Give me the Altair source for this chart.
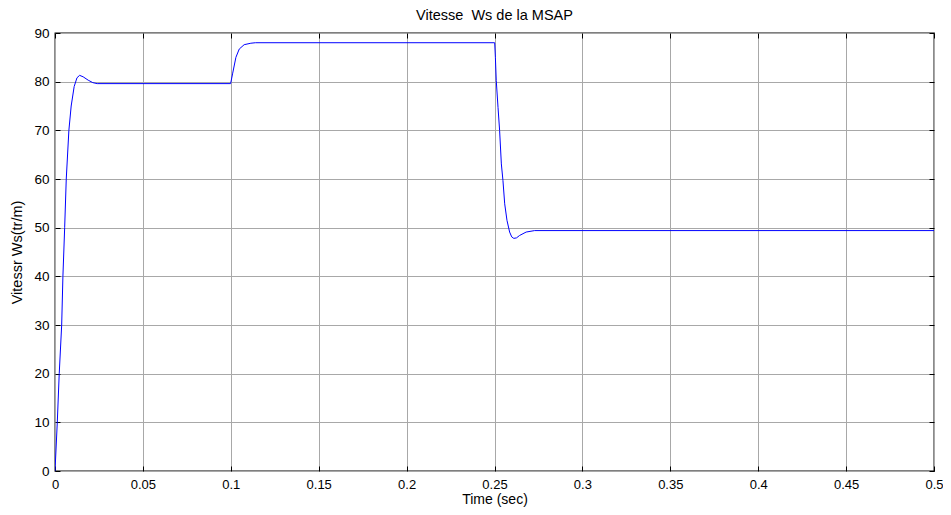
import altair as alt
import pandas as pd

# Speed response
t_sec = [0, 0.0013, 0.0024, 0.0038, 0.0045, 0.0055, 0.0064, 0.0079, 0.0092, 0.0109,
         0.0125, 0.0140, 0.0160, 0.0189, 0.0215, 0.0240,
         0.0999, 0.1010, 0.1029, 0.1048, 0.1076, 0.1114, 0.1140,
         0.2501, 0.2505, 0.2510, 0.2520, 0.2529, 0.2539, 0.2548, 0.2558, 0.2571,
         0.2586, 0.2598, 0.2610, 0.2625, 0.2643, 0.2680, 0.2728, 0.5]
ws = [0, 10, 20, 30, 40, 50, 60, 70, 75, 79,
      80.8, 81.3, 81.0, 80.3, 79.8, 79.6,
      79.6, 81.6, 85.0, 86.7, 87.6, 87.9, 88.0,
      88.0, 85.0, 80.2, 74.7, 70.0, 63.1, 59.7, 54.9, 51.5,
      49.1, 48.1, 47.8, 47.9, 48.4, 49.1, 49.4, 49.4]

x_ticks = [0, 0.05, 0.1, 0.15, 0.2, 0.25, 0.3, 0.35, 0.4, 0.45, 0.5]
y_ticks = [0, 10, 20, 30, 40, 50, 60, 70, 80, 90]

title_text = "Vitesse\u00a0 Ws de la MSAP"
x_title = "Time (sec)"
y_title = "Vitessr Ws(tr/m)"

df = pd.DataFrame({"t": t_sec, "w": ws})

W, H = 879, 438
FONT = "Liberation Sans"
GRID = "#a8a8a8"

xs = alt.Scale(domain=[0, 0.5], nice=False, zero=False)
ys = alt.Scale(domain=[0, 90], nice=False, zero=False)

base = alt.Chart(df)

main = base.mark_line(color="#0000ff", strokeWidth=1, clip=True).encode(
    x=alt.X("t:Q", scale=xs, axis=alt.Axis(
        orient="bottom", values=x_ticks, format="~g", grid=True, gridColor=GRID,
        gridWidth=1, tickSize=0, domain=False, labelPadding=7, labelFlush=False,
        labelFont=FONT, labelFontSize=13, labelColor="black",
        title=x_title, titleFont=FONT, titleFontSize=14, titleFontWeight="normal",
        titleColor="black", titlePadding=1)),
    y=alt.Y("w:Q", scale=ys, axis=alt.Axis(
        orient="left", values=y_ticks, format="d", grid=True, gridColor=GRID,
        gridWidth=1, tickSize=0, domain=False, labelPadding=6, labelFlush=False,
        labelFont=FONT, labelFontSize=13.5, labelColor="black",
        title=y_title, titleFont=FONT, titleFontSize=14.5, titleFontWeight="normal",
        titleColor="black", titlePadding=9)),
)

ticks_a = base.mark_line(strokeOpacity=0).encode(
    x=alt.X("t:Q", scale=xs, axis=alt.Axis(
        orient="top", offset=-H, values=x_ticks, grid=False, labels=False,
        domain=False, tickSize=5, tickColor="black", tickWidth=1, title=None)),
    y=alt.Y("w:Q", scale=ys, axis=alt.Axis(
        orient="right", offset=-W, values=y_ticks, grid=False, labels=False,
        domain=False, tickSize=5, tickColor="black", tickWidth=1, title=None)),
)

ticks_b = base.mark_line(strokeOpacity=0).encode(
    x=alt.X("t:Q", scale=xs, axis=alt.Axis(
        orient="bottom", offset=-H, values=x_ticks, grid=False, labels=False,
        domain=False, tickSize=5, tickColor="black", tickWidth=1, title=None)),
    y=alt.Y("w:Q", scale=ys, axis=alt.Axis(
        orient="left", offset=-W, values=y_ticks, grid=False, labels=False,
        domain=False, tickSize=5, tickColor="black", tickWidth=1, title=None)),
)

chart = alt.layer(main, ticks_a, ticks_b).resolve_axis(
    x="independent", y="independent"
).properties(
    width=W, height=H,
    autosize=alt.AutoSizeParams(type="none"),
    padding={"left": 47, "top": 25, "right": 9, "bottom": 36},
    title=alt.TitleParams(title_text, font=FONT, fontSize=14.5, fontWeight="normal",
                          color="black", offset=3, anchor="middle"),
    background="white",
).configure_view(stroke="black", strokeWidth=1.3)

chart.save("out.html", embed_options={"renderer": "svg", "actions": False})
